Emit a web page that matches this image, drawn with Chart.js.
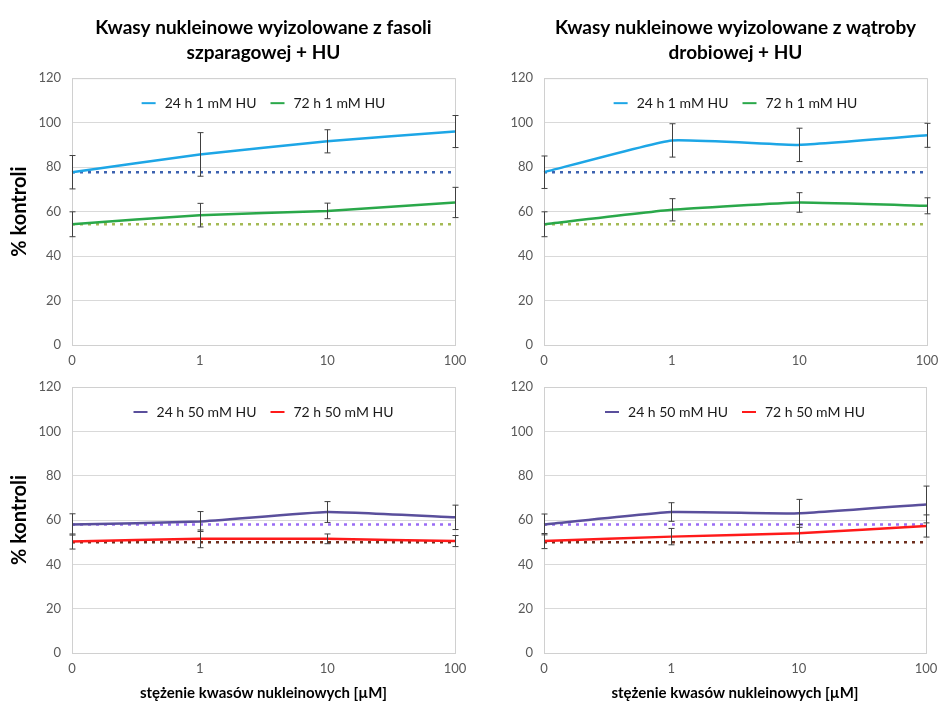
<!DOCTYPE html>
<html>
<head>
<meta charset="utf-8">
<script src="https://cdn.jsdelivr.net/npm/chart.js@4/dist/chart.umd.min.js"></script>
<style>
  body { margin: 0; background: #fff; width: 940px; height: 702px; position: relative; overflow: hidden; }
  canvas { position: absolute; }
</style>
</head>
<body>
<canvas id="c1" width="470" height="372" style="left:0;top:0"></canvas>
<canvas id="c2" width="470" height="372" style="left:470px;top:0"></canvas>
<canvas id="c3" width="470" height="342" style="left:0;top:360px"></canvas>
<canvas id="c4" width="470" height="342" style="left:470px;top:360px"></canvas>
<script>
var doses = ['0', '1', '10', '100'];

// fasola szparagowa, 1 mM HU
var fasola24 = [77.7, 85.7, 91.6, 96.0];
var fasola24Err = [7.5, 9.8, 5.2, 7.2];
var fasola72 = [54.3, 58.4, 60.3, 64.1];
var fasola72Err = [5.6, 5.3, 3.5, 6.8];
var fasola24Ref = [77.7, 77.7, 77.7, 77.7];
var fasola72Ref = [54.3, 54.3, 54.3, 54.3];

// watroba drobiowa, 1 mM HU
var watroba24 = [77.7, 92.0, 90.0, 94.3];
var watroba24Err = [7.3, 7.5, 7.5, 5.4];
var watroba72 = [54.3, 60.8, 64.1, 62.6];
var watroba72Err = [5.6, 5.0, 4.4, 3.6];
var watroba24Ref = [77.7, 77.7, 77.7, 77.7];
var watroba72Ref = [54.3, 54.3, 54.3, 54.3];

// fasola, 50 mM HU
var fasola24b = [58.0, 59.3, 63.6, 61.2];
var fasola24bErr = [4.8, 4.5, 4.7, 5.5];
var fasola72b = [50.3, 51.5, 51.5, 50.5];
var fasola72bErr = [3.4, 4.0, 2.2, 2.5];
var fasola24bRef = [58.0, 58.0, 58.0, 58.0];
var fasola72bRef = [50.0, 50.0, 50.0, 50.0];

// watroba, 50 mM HU
var watroba24b = [58.0, 63.6, 63.0, 67.0];
var watroba24bErr = [4.7, 4.2, 6.3, 8.3];
var watroba72b = [50.5, 52.5, 54.0, 57.3];
var watroba72bErr = [3.4, 3.7, 4.0, 5.0];
var watroba24bRef = [58.0, 58.0, 58.0, 58.0];
var watroba72bRef = [50.0, 50.0, 50.0, 50.0];

var FONT = 'Lato, "Open Sans", sans-serif';

// ramka wokol obszaru wykresu
var frame = {
	id: 'frame',
	beforeDatasetsDraw: function (chart) {
		var a = chart.chartArea, ctx = chart.ctx;
		ctx.save();
		ctx.strokeStyle = '#d0d0d0';
		ctx.lineWidth = 1;
		ctx.strokeRect(a.left + 0.5, a.top + 0.5, a.right - a.left, a.bottom - a.top);
		ctx.restore();
	}
};

// slupki bledow
var errorBars = {
	id: 'errorBars',
	afterDatasetsDraw: function (chart) {
		var ctx = chart.ctx, y = chart.scales.y;
		ctx.save();
		ctx.strokeStyle = '#404040';
		ctx.lineWidth = 1;
		chart.data.datasets.forEach(function (ds, i) {
			if (!ds.errors) return;
			var meta = chart.getDatasetMeta(i);
			meta.data.forEach(function (pt, j) {
				var v = ds.data[j], e = ds.errors[j];
				var x = Math.round(pt.x) + 0.5;
				var top = y.getPixelForValue(v + e), bot = y.getPixelForValue(v - e);
				ctx.beginPath();
				ctx.moveTo(x, top); ctx.lineTo(x, bot);
				ctx.moveTo(x - 3, top); ctx.lineTo(x + 3, top);
				ctx.moveTo(x - 3, bot); ctx.lineTo(x + 3, bot);
				ctx.stroke();
			});
		});
		ctx.restore();
	}
};

// legenda w srodku obszaru wykresu, u gory
var innerLegend = {
	id: 'innerLegend',
	afterDraw: function (chart) {
		var a = chart.chartArea, ctx = chart.ctx;
		var items = chart.data.datasets.filter(function (d) { return d.legend !== false; });
		var mark = 14, gap = 9, space = 14;
		ctx.save();
		ctx.font = '14px ' + FONT;
		var total = 0;
		items.forEach(function (d, i) {
			total += mark + gap + ctx.measureText(d.label).width + (i ? space : 0);
		});
		var x = (a.left + a.right) / 2 - total / 2;
		var yc = a.top + 25;
		ctx.textBaseline = 'middle';
		items.forEach(function (d, i) {
			if (i) x += space;
			ctx.strokeStyle = d.borderColor;
			ctx.lineWidth = 2;
			ctx.beginPath();
			ctx.moveTo(x, yc); ctx.lineTo(x + mark, yc);
			ctx.stroke();
			x += mark + gap;
			ctx.fillStyle = '#1a1a1a';
			ctx.fillText(d.label, x, yc);
			x += ctx.measureText(d.label).width;
		});
		ctx.restore();
	}
};

function line(label, data, errors, color) {
	return { label: label, data: data, errors: errors, borderColor: color, backgroundColor: color,
		borderWidth: 2.5, pointRadius: 0, tension: 0.12, fill: false };
}
function dotted(data, color) {
	return { label: '', data: data, borderColor: color, borderWidth: 2.5, borderDash: [3, 5],
		pointRadius: 0, fill: false, legend: false };
}

function makeChart(id, p) {
	var ctx = document.getElementById(id).getContext('2d');
	return new Chart(ctx, {
		type: 'line',
		data: { labels: doses, datasets: p.datasets },
		plugins: [frame, errorBars, innerLegend],
		options: {
			responsive: false,
			animation: false,
			layout: { padding: { top: p.padTop, right: p.padRight, left: 0, bottom: 0 } },
			plugins: {
				title: {
					display: !!p.title,
					text: p.title,
					fullSize: false,
					color: '#000',
					font: { family: FONT, size: 19, weight: 'bold', lineHeight: 1.32 },
					padding: { top: 15, bottom: 13 }
				},
				legend: { display: false },
				tooltip: { enabled: false }
			},
			scales: {
				x: {
					offset: false,
					grid: { display: false },
					border: { color: '#c8c8c8' },
					ticks: { color: '#595959', font: { family: FONT, size: 13 }, padding: 0, maxRotation: 0 },
					title: {
						display: p.xTitle,
						text: 'stężenie kwasów nukleinowych [µM]',
						color: '#000',
						font: { family: FONT, size: 15, weight: 'bold' },
						padding: { top: 0, bottom: 0 }
					},
					afterFit: function (s) { s.height = p.xHeight; }
				},
				y: {
					min: 0, max: 120,
					ticks: { stepSize: 20, color: '#595959', font: { family: FONT, size: 13 }, padding: 11 },
					grid: { color: '#d9d9d9', drawTicks: false },
					border: { display: false },
					title: {
						display: p.yTitle,
						text: '% kontroli',
						color: '#000',
						font: { family: FONT, size: 20, weight: 'bold' },
						padding: { top: 8, bottom: 0 }
					},
					afterFit: function (s) { s.width = p.yWidth; }
				}
			}
		}
	});
}

makeChart('c1', {
	title: ['Kwasy nukleinowe wyizolowane z fasoli', 'szparagowej + HU'],
	yTitle: true, xTitle: false, yWidth: 72, xHeight: 27, padTop: 0, padRight: 15,
	datasets: [
		line('24 h 1 mM HU', fasola24, fasola24Err, '#1da6e6'),
		line('72 h 1 mM HU', fasola72, fasola72Err, '#2aa84a'),
		dotted(fasola24Ref, '#3d62b0'),
		dotted(fasola72Ref, '#a4ba55')
	]
});
makeChart('c2', {
	title: ['Kwasy nukleinowe wyizolowane z wątroby', 'drobiowej + HU'],
	yTitle: false, xTitle: false, yWidth: 74, xHeight: 27, padTop: 0, padRight: 13,
	datasets: [
		line('24 h 1 mM HU', watroba24, watroba24Err, '#1da6e6'),
		line('72 h 1 mM HU', watroba72, watroba72Err, '#2aa84a'),
		dotted(watroba24Ref, '#3d62b0'),
		dotted(watroba72Ref, '#a4ba55')
	]
});
makeChart('c3', {
	title: null,
	yTitle: true, xTitle: true, yWidth: 72, xHeight: 49, padTop: 27, padRight: 15,
	datasets: [
		line('24 h 50 mM HU', fasola24b, fasola24bErr, '#5a4f9c'),
		line('72 h 50 mM HU', fasola72b, fasola72bErr, '#ff1a1a'),
		dotted(fasola24bRef, '#9a6cf5'),
		dotted(fasola72bRef, '#6e2f1e')
	]
});
makeChart('c4', {
	title: null,
	yTitle: false, xTitle: true, yWidth: 74, xHeight: 49, padTop: 27, padRight: 14,
	datasets: [
		line('24 h 50 mM HU', watroba24b, watroba24bErr, '#5a4f9c'),
		line('72 h 50 mM HU', watroba72b, watroba72bErr, '#ff1a1a'),
		dotted(watroba24bRef, '#9a6cf5'),
		dotted(watroba72bRef, '#6e2f1e')
	]
});
</script>
</body>
</html>
